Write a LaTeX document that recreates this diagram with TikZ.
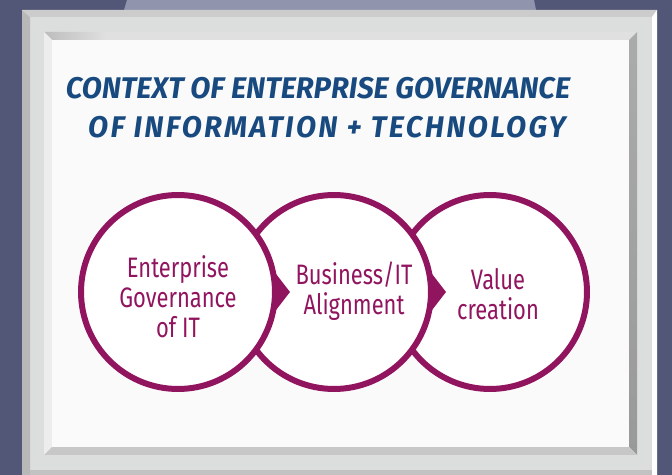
\documentclass[tikz,border=0pt]{standalone}
\usepackage{fontspec}
\newfontfamily\titlefont[FakeStretch=0.98]{Fira Sans}
\newfontfamily\ringfont[FakeStretch=0.78]{Fira Sans}
\definecolor{wall}{RGB}{82,87,120}
\definecolor{hanger}{RGB}{144,148,173}
\definecolor{frame}{RGB}{220,222,221}
\definecolor{plum}{RGB}{145,20,95}
\definecolor{ink}{RGB}{24,74,128}
\definecolor{board}{RGB}{250,250,250}
\begin{document}
\begin{tikzpicture}[x=0.02cm,y=-0.02cm,
	ring/.style={circle,draw=plum,line width=3.4pt,fill=white,minimum size=3.88cm,inner sep=0pt},
	ringtext/.style={text=plum,align=center,font=\ringfont\fontsize{16}{17}\selectfont},
	titletext/.style={text=ink,font=\titlefont\bfseries\itshape\fontsize{17}{20}\selectfont},
	chevron/.style={fill=plum}]
	\useasboundingbox (0,0) rectangle (672,475);
	\fill[wall](0,0) rectangle (672,475);
	\fill[hanger](127,0)--(534,0)--(536,10)--(124,10)--cycle;
	
	\fill[frame](22,10) rectangle (657,475);
	\fill[black!28](22,10)--(30,17)--(30,475)--(22,475)--cycle;
	\fill[black!20](22,10)--(657,10)--(652,17)--(30,17)--cycle;
	\fill[white](657,10)--(657,475)--(652,475)--(652,17)--cycle;
	\fill[black!24](30,470) rectangle (652,475);
	
	\fill[black!12](44,32)--(637,32)--(629,40)--(52,40)--cycle;
	\shade[left color=black!26,right color=black!12](44,32)--(107,32)--(107,40)--(52,40)--cycle;
	\fill[black!7](44,32)--(52,40)--(52,447)--(44,455)--cycle;
	\shade[top color=black!33,bottom color=black!40](637,32)--(637,455)--(629,447)--(629,40)--cycle;
	\fill[black!22](44,455)--(637,455)--(629,447)--(52,447)--cycle;
	\fill[board](52,40) rectangle (629,447);
	
	\node[titletext] (title1) at (318,88) {CONTEXT OF ENTERPRISE GOVERNANCE};
	\node[titletext] (title2) at (327,127) {\addfontfeature{LetterSpace=8}OF INFORMATION + TECHNOLOGY};
	
	\node[ring] (value) at (490,292) {};
	\node[ring] (align) at (334,292) {};
	\fill[chevron]([shift={(-5,-22)}]align.east)--([shift={(12,0)}]align.east)
	--([shift={(-5,22)}]align.east)--cycle;
	\node[ring] (egit) at (178,292) {};
	\fill[chevron]([shift={(-5,-22)}]egit.east)--([shift={(12,0)}]egit.east)
	--([shift={(-5,22)}]egit.east)--cycle;
	
	\node[ringtext] (egittext) at (178,297) {Enterprise\\Governance\\of IT};
	\node[ringtext] (aligntext) at (354,291) {Business/IT\\Alignment};
	\node[ringtext] (valuetext) at (498,294) {Value\\creation};
\end{tikzpicture}
\end{document}
